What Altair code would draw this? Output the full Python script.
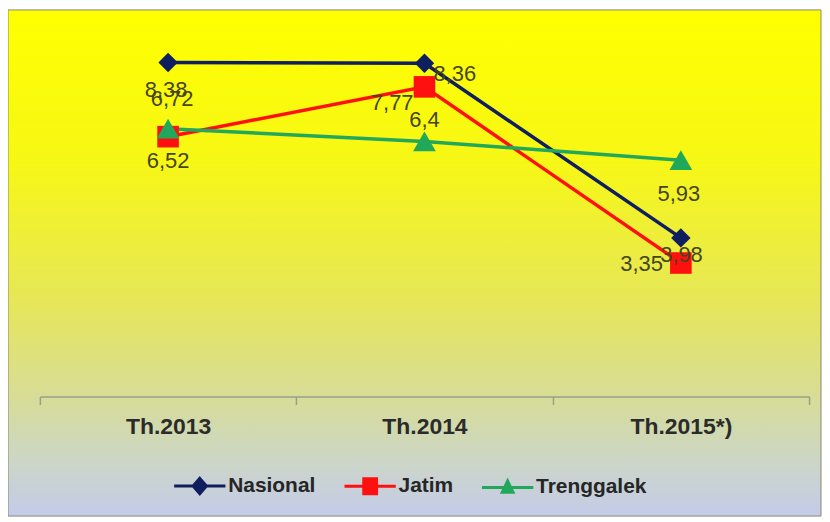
import altair as alt
import pandas as pd

# ---- data ----
years = ["Th.2013", "Th.2014", "Th.2015*)"]
series_names = ["Nasional", "Jatim", "Trenggalek"]
nasional = [8.38, 8.36, 3.98]
jatim = [6.52, 7.77, 3.35]
trenggalek = [6.72, 6.4, 5.93]
series_colors = ["#0f1e5e", "#ff1010", "#22a85a"]
series_shapes = ["diamond", "square", "triangle-up"]
series_sizes = [380, 470, 520]

values_by_series = {"Nasional": nasional, "Jatim": jatim, "Trenggalek": trenggalek}
rows = []
for s in series_names:
    for y, v in zip(years, values_by_series[s]):
        rows.append({"series": s, "year": y, "value": v,
                     "label": f"{v:g}".replace(".", ",")})
df = pd.DataFrame(rows)

W, H = 772, 360
PAD = {"left": 32, "top": 29, "right": 13, "bottom": 121}

# ---- background ----
grad = alt.LinearGradient(
    gradient="linear", x1=0, y1=0, x2=0, y2=1,
    stops=[
        alt.GradientStop(color="#ffff00", offset=0.0),
        alt.GradientStop(color="#f7f716", offset=0.3),
        alt.GradientStop(color="#e6e65a", offset=0.58),
        alt.GradientStop(color="#d6dc9c", offset=0.78),
        alt.GradientStop(color="#ccd6c6", offset=0.89),
        alt.GradientStop(color="#c4cbea", offset=1.0),
    ],
)
bg = alt.Chart(alt.Data(values=[{"k": 1}])).mark_rect(
    fill=grad, stroke="#8c8770", strokeWidth=1
).encode(
    x=alt.value(-PAD["left"]), x2=alt.value(W + PAD["right"] - 1),
    y=alt.value(-PAD["top"] + 1), y2=alt.value(H + PAD["bottom"] - 1),
)

xenc = alt.X(
    "year:N", sort=years, title=None,
    scale=alt.Scale(paddingInner=0, paddingOuter=0),
    axis=alt.Axis(
        labelAngle=0, labelFont="Liberation Sans", labelFontWeight="bold",
        labelFontSize=23, labelColor="#2b2b2b", tickBand="extent",
        tickSize=8, labelPadding=11, domainColor="#98a08a", domainWidth=1.5,
        tickColor="#98a08a", tickWidth=1.5, grid=False, zindex=1,
    ),
)
yenc = alt.Y("value:Q", scale=alt.Scale(domain=[0, 9], nice=False), axis=None)

color_scale = alt.Scale(domain=series_names, range=series_colors)

legend_paths = [
    "M-1,0L1,0M0,-0.3L0.26,0L0,0.3L-0.26,0Z",
    "M-1,0L1,0M-0.25,-0.29L0.25,-0.29L0.25,0.29L-0.25,0.29Z",
    "M-1,0L1,0M0,-0.25L0.21,0.19L-0.21,0.19Z",
]

legend = alt.Legend(
    orient="none", legendX=133, legendY=422, direction="horizontal", title=None,
    padding=0, symbolSize=2650, labelFont="Liberation Sans", labelFontWeight="bold",
    labelFontSize=21, labelColor="#262626", labelOffset=1, columnPadding=22,
    symbolStrokeWidth=3, symbolOpacity=1,
)

lines = alt.Chart(df).mark_line(strokeWidth=3.5).encode(
    x=xenc, y=yenc,
    color=alt.Color("series:N", scale=color_scale, legend=legend),
    order=alt.Order("series:N"),
)

point_layers = []
for s, shp, sz in zip(series_names, series_shapes, series_sizes):
    point_layers.append(
        alt.Chart(df).transform_filter(alt.datum.series == s).mark_point(
            filled=True, opacity=1, shape=shp, size=sz
        ).encode(
            x=xenc, y=yenc,
            color=alt.Color("series:N", scale=color_scale, legend=legend),
        )
    )

# legend carrier (draws nothing itself)
legend_layer = alt.Chart(df).transform_filter("false").mark_point(
    filled=True, opacity=1
).encode(
    x=xenc, y=yenc,
    color=alt.Color("series:N", scale=color_scale, legend=legend),
    stroke=alt.Stroke("series:N", scale=alt.Scale(domain=series_names, range=series_colors), legend=legend),
    shape=alt.Shape("series:N", scale=alt.Scale(domain=series_names, range=legend_paths), legend=legend),
)

placements = {
    ("Nasional", "Th.2013"): ("center", -2, 28),
    ("Trenggalek", "Th.2013"): ("center", 4, -30),
    ("Jatim", "Th.2013"): ("center", 0, 24),
    ("Nasional", "Th.2014"): ("left", 9, 11),
    ("Jatim", "Th.2014"): ("right", -11, 16),
    ("Trenggalek", "Th.2014"): ("center", 0, -21),
    ("Trenggalek", "Th.2015*)"): ("center", -2, 34),
    ("Jatim", "Th.2015*)"): ("right", -18, 1),
    ("Nasional", "Th.2015*)"): ("right", 22, 17),
}
label_layers = []
for (s, y), (al, dx, dy) in placements.items():
    label_layers.append(
        alt.Chart(df).transform_filter(
            (alt.datum.series == s) & (alt.datum.year == y)
        ).mark_text(
            align=al, baseline="middle", dx=dx, dy=dy,
            font="Liberation Sans", fontSize=22, color="#45451f",
        ).encode(x=xenc, y=yenc, text="label:N")
    )

chart = alt.layer(bg, lines, *point_layers, legend_layer, *label_layers).properties(
    width=W, height=H, padding=PAD,
    autosize=alt.AutoSizeParams(type="none"),
    background="white",
).configure_view(stroke=None)

chart.save("out.html", embed_options={"renderer": "svg", "actions": False})
